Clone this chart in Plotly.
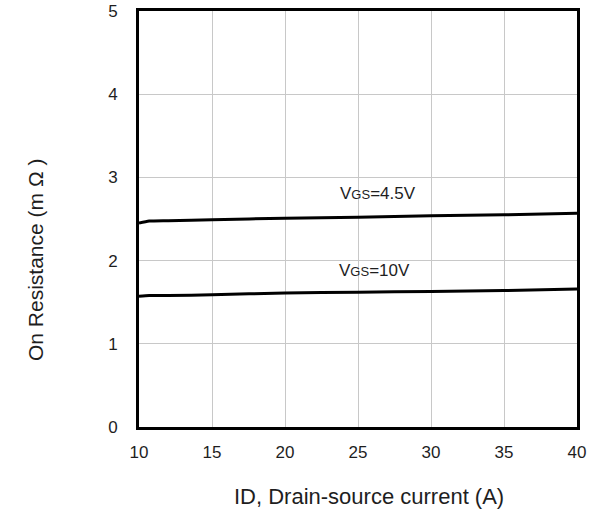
import plotly.graph_objects as go

# Drain current (A) and on-resistance (mΩ) for two gate drive levels
id_current = [10, 10.7, 12, 15, 20, 25, 30, 35, 40]
rds_vgs45 = [2.45, 2.475, 2.48, 2.49, 2.51, 2.52, 2.54, 2.55, 2.57]
rds_vgs10 = [1.57, 1.58, 1.58, 1.59, 1.61, 1.62, 1.63, 1.64, 1.66]

x_ticks = [10, 15, 20, 25, 30, 35, 40]
y_ticks = [0, 1, 2, 3, 4, 5]

font = "Liberation Sans, Arial, sans-serif"
ink = "#1e1e1e"

fig = go.Figure()
for ys in (rds_vgs45, rds_vgs10):
    fig.add_trace(go.Scatter(x=id_current, y=ys, mode="lines",
                             line=dict(color="black", width=3, shape="spline",
                                       smoothing=0.6),
                             showlegend=False, hoverinfo="skip"))

# curve labels
fig.add_annotation(x=26.4, y=2.81, text="V<span style='font-size:13px'>GS</span>=4.5V",
                   showarrow=False, font=dict(family=font, size=17, color=ink))
fig.add_annotation(x=26.1, y=1.88, text="V<span style='font-size:13px'>GS</span>=10V",
                   showarrow=False, font=dict(family=font, size=17, color=ink))

# axis titles, placed in pixel terms relative to the plot area
plot_w = 598 - 139 - 21
plot_h = 513 - 11 - 86
fig.add_annotation(x=(369 - 139) / plot_w, xref="paper",
                   y=(427 - 496) / plot_h, yref="paper",
                   xanchor="center", yanchor="middle",
                   text="ID, Drain-source current (A)", showarrow=False,
                   font=dict(family=font, size=22, color=ink))
fig.add_annotation(x=(35 - 139) / plot_w, xref="paper",
                   y=(427 - 260) / plot_h, yref="paper",
                   xanchor="center", yanchor="middle",
                   text="On Resistance (m Ω )", textangle=-90, showarrow=False,
                   font=dict(family=font, size=21, color=ink))

fig.update_layout(
    width=598, height=513,
    margin=dict(l=139, r=21, t=11, b=86, autoexpand=False),
    paper_bgcolor="white", plot_bgcolor="white",
    font=dict(family=font, size=17, color=ink),
)

fig.update_xaxes(range=[10, 40], tickvals=x_ticks, showgrid=True,
                 gridcolor="#c8c8c8", gridwidth=1, zeroline=False,
                 showline=True, linecolor="black", linewidth=3, mirror=True,
                 ticks="", ticklabelstandoff=8, automargin=False)
fig.update_yaxes(range=[0, 5], tickvals=y_ticks, showgrid=True,
                 gridcolor="#c8c8c8", gridwidth=1, zeroline=False,
                 showline=True, linecolor="black", linewidth=3, mirror=True,
                 ticks="", ticklabelstandoff=15, automargin=False)

fig.write_html("out.html")
